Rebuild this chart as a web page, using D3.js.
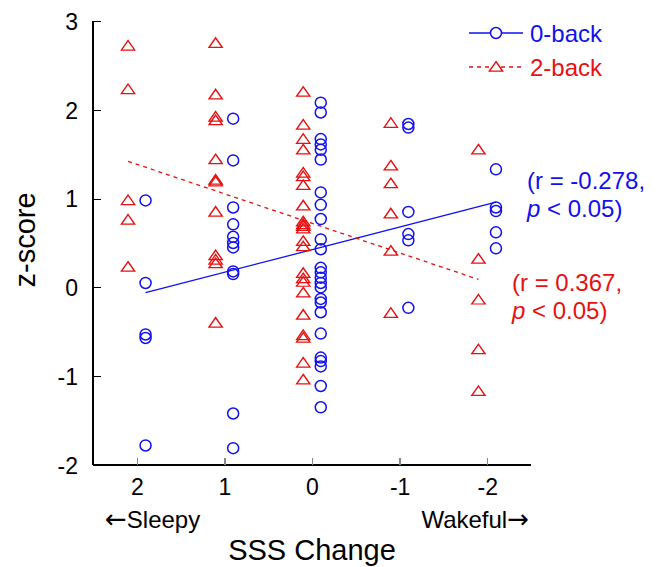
<!DOCTYPE html>
<meta charset="utf-8">
<script src="https://cdn.jsdelivr.net/npm/d3@7"></script>
<style type="text/css">
  body { margin: 0; background: #fff; }
  text { font-family: "Liberation Sans", Arial, sans-serif; }
  .axis path, .axis line { shape-rendering: crispEdges; }
</style>
<body>
<script>

// SSS change levels (x axis, reversed: sleepy on the left)
var sssLevels = [2, 1, 0, -1, -2];

// z-scores for 0-back task, one list per SSS level
var zeroBack = [
    [0.98, 0.05, -0.53, -0.57, -1.78],
    [1.90, 1.43, 0.90, 0.71, 0.57, 0.50, 0.45, 0.18, 0.15, -1.42, -1.81],
    [2.08, 1.97, 1.67, 1.61, 1.55, 1.44, 1.07, 0.93, 0.77, 0.54, 0.43, 0.22, 0.17, 0.11, 0.05, 0.00,
     -0.13, -0.17, -0.28, -0.52, -0.79, -0.83, -0.89, -1.11, -1.35],
    [1.84, 1.80, 0.85, 0.60, 0.53, -0.23],
    [1.33, 0.90, 0.86, 0.62, 0.44]
];

// z-scores for 2-back task, one list per SSS level
var twoBack = [
    [2.72, 2.23, 0.98, 0.76, 0.23],
    [2.75, 2.17, 1.92, 1.88, 1.44, 1.21, 1.19, 0.85, 0.36, 0.31, 0.27, -0.40],
    [2.20, 1.83, 1.67, 1.55, 1.29, 1.25, 1.15, 0.92, 0.74, 0.71, 0.69, 0.66, 0.52, 0.46, 0.16, 0.10, 0.06,
     -0.06, -0.31, -0.54, -0.57, -0.85, -1.04],
    [1.85, 1.37, 1.17, 0.83, 0.41, -0.29],
    [1.55, 0.32, -0.14, -0.70, -1.17]
];

// regression line end points [sss, z]
var zeroBackFit = [[1.9, -0.06], [-2.1, 0.96]];
var twoBackFit = [[2.1, 1.42], [-1.9, 0.09]];

var xTicks = [2, 1, 0, -1, -2];
var yTicks = [-2, -1, 0, 1, 2, 3];

var blue = "#1010f0",
    red = "#e81010";

var width = 658, height = 567;
var margin = {top: 21, left: 93, right: 120, bottom: 102};

var svg = d3.select("body").append("svg")
    .attr("width", width)
    .attr("height", height);

var xScale = d3.scaleLinear()
    .domain([2.5, -2.5])
    .range([margin.left, width - margin.right - 7]);

var yScale = d3.scaleLinear()
    .domain([-2, 3])
    .range([height - margin.bottom, margin.top]);

// small horizontal shift so the two tasks sit side by side
var shift = {zero: -0.1, two: 0.1};

var flatten = (groups, key) => groups.flatMap((vals, i) =>
    vals.map(v => ({sss: sssLevels[i], z: v, key})));

var zeroPts = flatten(zeroBack, "zero");
var twoPts = flatten(twoBack, "two");

// axes
var xAxis = d3.axisBottom(xScale).tickValues(xTicks).tickSize(-7).tickFormat(d => String(d)).tickPadding(12);
var yAxis = d3.axisLeft(yScale).tickValues(yTicks).tickSize(-8).tickFormat(d => String(d)).tickPadding(15);

var gx = svg.append("g")
    .attr("class", "axis")
    .attr("transform", `translate(0,${yScale(-2)})`)
    .call(xAxis);
gx.select(".domain").attr("stroke", "#000").attr("stroke-width", 1.5)
    .attr("d", `M${xScale(2.5)},0H${xScale(-2.5)}`);
gx.selectAll(".tick line").attr("stroke", "#888").attr("stroke-width", 1.5);
gx.selectAll(".tick text").attr("font-size", 23).attr("fill", "#000")
    .attr("dy", "0.8em")
    .style("font-family", "Liberation Sans, Arial, sans-serif");

var gy = svg.append("g")
    .attr("class", "axis")
    .attr("transform", `translate(${xScale(2.5)},0)`)
    .call(yAxis);
gy.select(".domain").attr("stroke", "#000").attr("stroke-width", 1.5)
    .attr("d", `M0,${yScale(3)}V${yScale(-2)}`);
gy.selectAll(".tick line").attr("stroke", "#000").attr("stroke-width", 1.2);
gy.selectAll(".tick text").attr("font-size", 23).attr("fill", "#000")
    .attr("dy", "0.36em")
    .style("font-family", "Liberation Sans, Arial, sans-serif");

// axis titles
svg.append("text")
    .attr("transform", `translate(35,240) rotate(-90)`)
    .attr("text-anchor", "middle")
    .attr("font-size", 29)
    .text("z-score");

svg.append("text")
    .attr("x", xScale(0))
    .attr("y", 560)
    .attr("text-anchor", "middle")
    .attr("font-size", 29)
    .text("SSS Change");

var sleepy = svg.append("text")
    .attr("x", 105)
    .attr("y", 528)
    .attr("font-size", 24);
sleepy.append("tspan").attr("font-family", "DejaVu Sans").attr("font-size", 26).text("\u2190");
sleepy.append("tspan").text("Sleepy");

var wakeful = svg.append("text")
    .attr("x", 529)
    .attr("y", 528)
    .attr("text-anchor", "end")
    .attr("font-size", 24);
wakeful.append("tspan").text("Wakeful");
wakeful.append("tspan").attr("font-family", "DejaVu Sans").attr("font-size", 26).text("\u2192");

// regression lines
var line = d3.line()
    .x(d => xScale(d[0]))
    .y(d => yScale(d[1]));

svg.append("path")
    .attr("d", line(zeroBackFit))
    .attr("fill", "none")
    .attr("stroke", blue)
    .attr("stroke-width", 1.3);

svg.append("path")
    .attr("d", line(twoBackFit))
    .attr("fill", "none")
    .attr("stroke", red)
    .attr("stroke-width", 1.3)
    .attr("stroke-dasharray", "4,4");

// markers
var triangle = d3.symbol().type(d3.symbolTriangle).size(58);

svg.append("g").selectAll("path")
    .data(twoPts)
    .enter().append("path")
        .attr("d", triangle)
        .attr("transform", d => `translate(${xScale(d.sss + shift.two)},${yScale(d.z) + 1}) scale(1.15,0.95)`)
        .attr("fill", "none")
        .attr("stroke", red)
        .attr("stroke-width", 1.3);

svg.append("g").selectAll("circle")
    .data(zeroPts)
    .enter().append("circle")
        .attr("cx", d => xScale(d.sss + shift.zero))
        .attr("cy", d => yScale(d.z))
        .attr("r", 5.5)
        .attr("fill", "none")
        .attr("stroke", blue)
        .attr("stroke-width", 1.5);

// legend
var legend = svg.append("g").attr("transform", "translate(469,33)");

legend.append("line")
    .attr("x1", 0).attr("x2", 54).attr("y1", 0).attr("y2", 0)
    .attr("stroke", blue).attr("stroke-width", 1.3);
legend.append("circle")
    .attr("cx", 27).attr("cy", 0).attr("r", 5.5)
    .attr("fill", "#fff").attr("stroke", blue).attr("stroke-width", 1.5);
legend.append("text")
    .attr("x", 61).attr("y", 0).attr("dy", "0.36em")
    .attr("font-size", 24).attr("fill", blue)
    .text("0-back");

legend.append("line")
    .attr("x1", 0).attr("x2", 54).attr("y1", 34).attr("y2", 34)
    .attr("stroke", red).attr("stroke-width", 1.3).attr("stroke-dasharray", "4,4");
legend.append("path")
    .attr("d", triangle)
    .attr("transform", "translate(27,35) scale(1.15,0.95)")
    .attr("fill", "#fff").attr("stroke", red).attr("stroke-width", 1.3);
legend.append("text")
    .attr("x", 61).attr("y", 34).attr("dy", "0.36em")
    .attr("font-size", 24).attr("fill", red)
    .text("2-back");

// correlation notes
function note(x, y, color, r) {
    var t = svg.append("text").attr("font-size", 24).attr("fill", color);
    t.append("tspan").attr("x", x).attr("y", y).text("(r = " + r + ",");
    var t2 = t.append("tspan").attr("x", x).attr("y", y + 28);
    t2.append("tspan").attr("font-style", "italic").text("p");
    t2.append("tspan").text(" < 0.05)");
}
note(527, 189, blue, "-0.278");
note(512, 291, red, "0.367");

</script>
</body>
</html>
